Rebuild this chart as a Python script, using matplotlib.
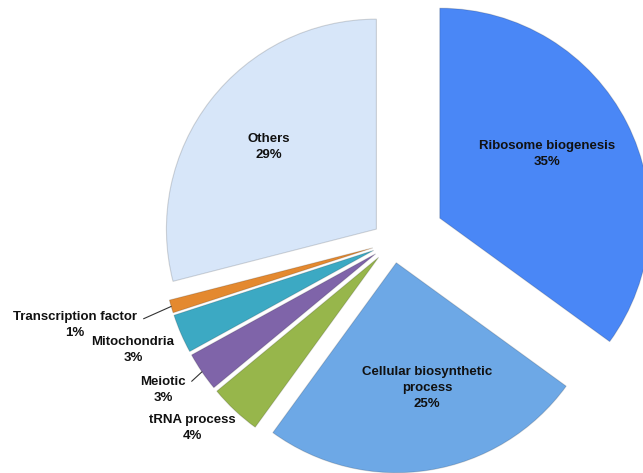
import numpy as np
import matplotlib
matplotlib.use("Agg")
import matplotlib.pyplot as plt

# slices, clockwise from 12 o'clock
labels = ["Ribosome biogenesis", "Cellular biosynthetic\nprocess", "tRNA process",
          "Meiotic", "Mitochondria", "Transcription factor", "Others"]
shares = [35, 25, 4, 3, 3, 1, 29]

colors = ["#4A87F6", "#6DA8E6", "#97B64B", "#7F64A9", "#3CA9C3", "#E4892F", "#D7E6F9"]
explode = [0.25, 0.1, 0.1, 0.1, 0.1, 0.1, 0.1]   # fraction of radius

# where the text blocks sit (figure pixels, y down)
label_xy = [(547, 154), (427, 388), (192, 428), (163, 390), (133, 350), (75, 325), (269, 147)]
leader = [False, False, False, True, False, True, False]

W, H = 643, 473
fig = plt.figure(figsize=(W / 100, H / 100), dpi=100)
ax = fig.add_axes([0, 0, 1, 1])
ax.axis("off")

R = 210
# pie's explode is in data units, so scale by the radius
wedges, _ = ax.pie(shares, colors=colors, explode=[e * R for e in explode],
                   startangle=90, counterclock=False, radius=R,
                   center=(393, H - 242),
                   wedgeprops=dict(edgecolor=(0, 0, 0, 0.15), linewidth=0.8))
ax.set_xlim(0, W)
ax.set_ylim(0, H)
ax.set_aspect("equal")

font = dict(family=["Liberation Sans", "DejaVu Sans"], fontsize=9.5,
            fontweight="bold", color="#111111", ha="center", va="center",
            linespacing=1.4)

for w, lab, s, (px, py), ld in zip(wedges, labels, shares, label_xy, leader):
    txt = f"{lab}\n{s}%"
    if ld:
        mid = np.deg2rad((w.theta1 + w.theta2) / 2)
        cx, cy = w.center
        tip = (cx + w.r * np.cos(mid), cy + w.r * np.sin(mid))
        ax.annotate(txt, xy=tip, xytext=(px, H - py),
                    arrowprops=dict(arrowstyle="-", color="#333333", lw=0.8,
                                    relpos=(1, 0.62), shrinkA=3, shrinkB=0),
                    **font)
    else:
        ax.text(px, H - py, txt, **font)

fig.savefig("out.png", dpi=100)
